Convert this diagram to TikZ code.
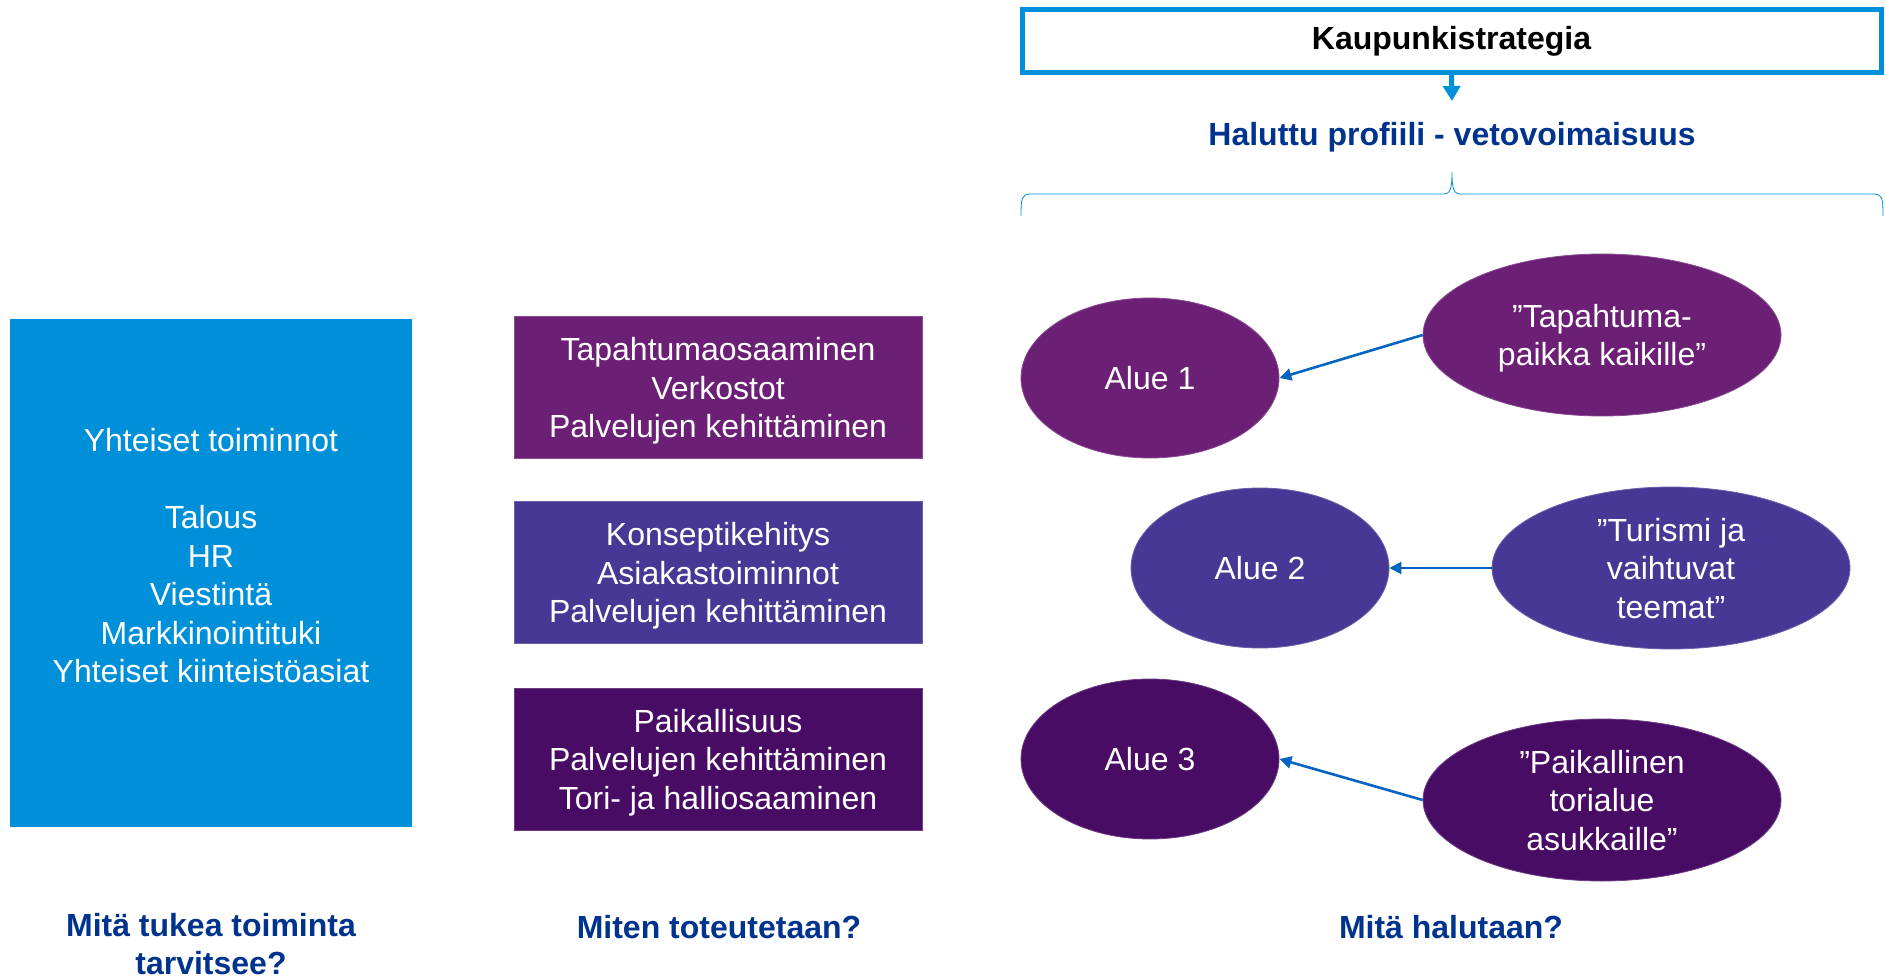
\documentclass[tikz,border=0pt]{standalone}
\usepackage{fontspec}
\setmainfont{Liberation Sans}
\usetikzlibrary{arrows.meta,shapes.geometric}
\definecolor{skyblue}{RGB}{0,144,218}
\definecolor{deepblue}{RGB}{0,51,141}
\definecolor{plumA}{RGB}{107,31,117}
\definecolor{plumB}{RGB}{72,56,150}
\definecolor{plumC}{RGB}{73,12,100}
\definecolor{linkblue}{RGB}{5,99,193}
\tikzset{
  big/.style={font=\fontsize{16}{19.25}\selectfont},
  sidebox/.style={fill=skyblue, minimum width=201pt, minimum height=254pt, inner sep=0pt},
  waybox/.style={big, text=white, align=center, inner sep=0pt, thin, text depth=-1.4pt,
                 draw=#1!80!white, fill=#1, minimum width=204pt, minimum height=71pt},
  area/.style={ellipse, big, text=white, align=center, inner sep=0pt, thin, text depth=-1.2pt,
               draw=#1!80!white, fill=#1, minimum width=129pt, minimum height=80pt},
  wish/.style={area=#1, text depth=-1.5pt, minimum width=179pt, minimum height=81pt},
  question/.style={font=\fontsize{16}{19.25}\selectfont\bfseries, text=deepblue, align=center, inner sep=1pt},
  link/.style={-{Triangle[length=6pt,width=6pt]}, linkblue, line width=1.3pt},
}

\begin{document}
\begin{tikzpicture}[x=0.5pt,y=-0.5pt]
    \useasboundingbox (0,0) rectangle (1885,978);
    % top: strategy and profile
    \node[draw=skyblue, line width=2.5pt, fill=white, minimum width=429.5pt, minimum height=31.5pt,
          font=\fontsize{16}{19.25}\selectfont\bfseries] (strat) at (1451.5,41) {Kaupunkistrategia};
    \coordinate (stratend) at (1452,101);
    \draw[-{Triangle[length=7.5pt,width=8.5pt]}, skyblue, line width=2.5pt] (strat.south) -- (stratend);
    \node[question] (profiili) at (1452,137) {Haluttu profiili - vetovoimaisuus};
    \draw[skyblue, thin] (1021,216) .. controls (1021,197) and (1022,194) .. (1031,194)
      -- (1443,194) .. controls (1450,194) and (1452,190) .. (1452,172)
      .. controls (1452,190) and (1454,194) .. (1461,194)
      -- (1873,194) .. controls (1882,194) and (1883,197) .. (1883,216);
    % left column
    \node[sidebox] (tuki) at (211,573) {};
    \node[big, text=white, align=center] (tukitxt) at (211,556)
      {Yhteiset toiminnot\\[19.25pt] Talous\\ HR\\ Viestintä\\ Markkinointituki\\ Yhteiset kiinteistöasiat};
    % middle column
    \node[waybox=plumA] (tapa) at (718,387.5) {Tapahtumaosaaminen\\ Verkostot\\ Palvelujen kehittäminen};
    \node[waybox=plumB] (konsepti) at (718,572.5) {Konseptikehitys\\ Asiakastoiminnot\\ Palvelujen kehittäminen};
    \node[waybox=plumC] (paikal) at (718,759) {Paikallisuus\\ Palvelujen kehittäminen\\ Tori- ja halliosaaminen};
    % right column
    \node[area=plumA] (alue1) at (1150,378) {Alue 1};
    \node[area=plumB] (alue2) at (1260,568) {Alue 2};
    \node[area=plumC] (alue3) at (1150,759) {Alue 3};
    \node[wish=plumA] (wish1) at (1602,335) {”Tapahtuma-\\ paikka kaikille”};
    \node[wish=plumB] (wish2) at (1671,568) {”Turismi ja\\ vaihtuvat\\ teemat”};
    \node[wish=plumC] (wish3) at (1602,800) {”Paikallinen\\ torialue\\ asukkaille”};
    \draw[link] (wish1.west) -- (alue1.east);
    \draw[link] (wish2.west) -- (alue2.east);
    \draw[link] (wish3.west) -- (alue3.east);
    % questions
    \node[question] (q1) at (211,944) {Mitä tukea toiminta\\ tarvitsee?};
    \node[question] (q2) at (719,927) {Miten toteutetaan?};
    \node[question] (q3) at (1451,927) {Mitä halutaan?};
\end{tikzpicture}
\end{document}
